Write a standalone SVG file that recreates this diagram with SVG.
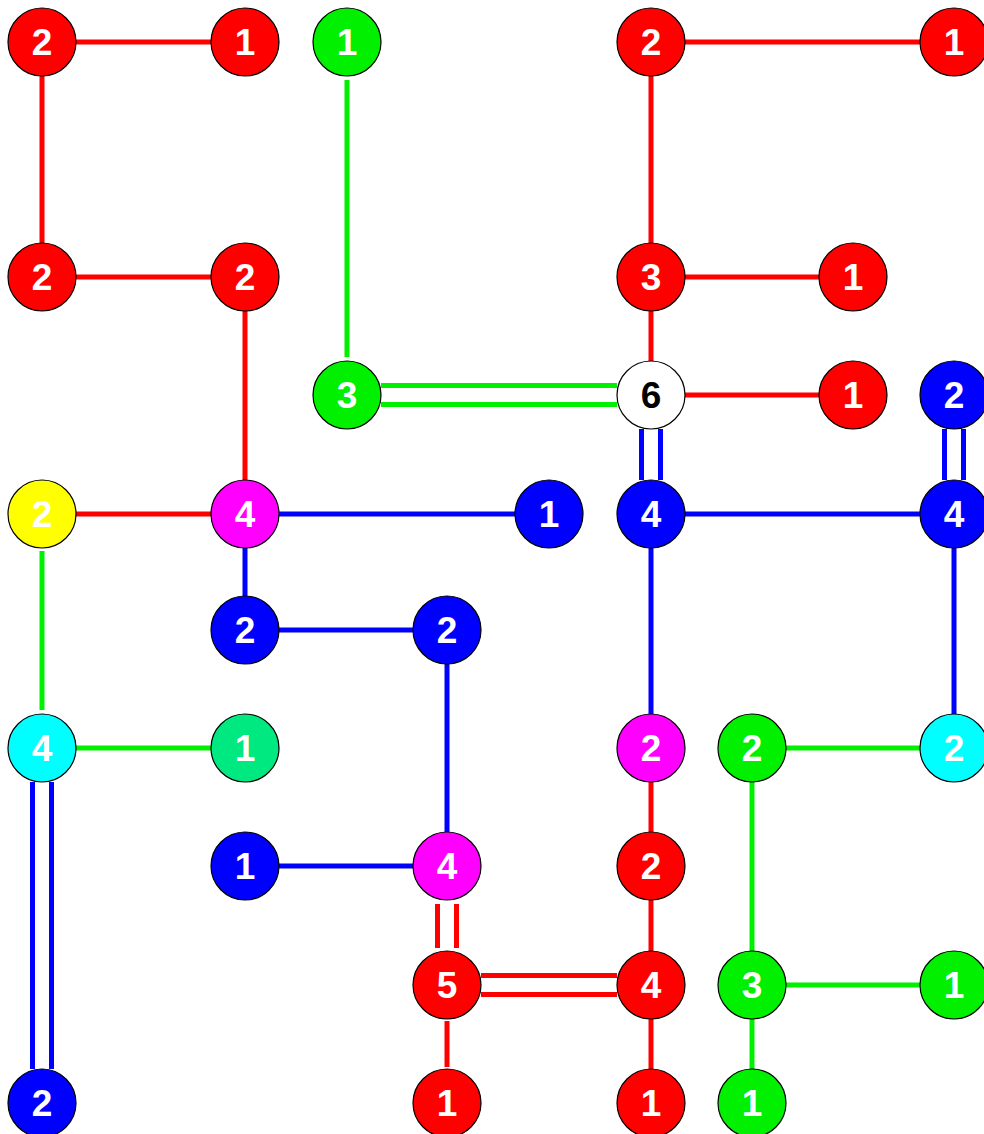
<svg xmlns="http://www.w3.org/2000/svg" width="984" height="1134" viewBox="0 0 984 1134">
<style>
.n circle{stroke:#000;stroke-width:1.2}
.n text{font-family:"Liberation Sans",Arial,sans-serif;font-weight:bold;font-size:37px;fill:#fff;text-anchor:middle}
.e line{stroke-width:5;stroke-linecap:butt}
.r{stroke:#ff0000}.g{stroke:#00f000}.b{stroke:#0000ff}
</style>
<rect width="984" height="1134" fill="#fff"/>
<g id="connectors" class="e">
<line class="r" x1="76" y1="42" x2="211" y2="42"/>
<line class="r" x1="42" y1="76" x2="42" y2="243"/>
<line class="r" x1="76" y1="277" x2="211" y2="277"/>
<line class="r" x1="245" y1="311" x2="245" y2="480"/>
<line class="g" x1="347" y1="80" x2="347" y2="357"/>
<line class="g" x1="381" y1="385.5" x2="617" y2="385.5"/>
<line class="g" x1="381" y1="404.5" x2="617" y2="404.5"/>
<line class="r" x1="685" y1="42" x2="920" y2="42"/>
<line class="r" x1="651" y1="76" x2="651" y2="243"/>
<line class="r" x1="685" y1="277" x2="819" y2="277"/>
<line class="r" x1="651" y1="311" x2="651" y2="361"/>
<line class="r" x1="685" y1="395" x2="819" y2="395"/>
<line class="b" x1="641.5" y1="429" x2="641.5" y2="480"/>
<line class="b" x1="660.5" y1="429" x2="660.5" y2="480"/>
<line class="b" x1="944.5" y1="429" x2="944.5" y2="480"/>
<line class="b" x1="963.5" y1="429" x2="963.5" y2="480"/>
<line class="r" x1="72" y1="514" x2="215" y2="514"/>
<line class="b" x1="275" y1="514" x2="515" y2="514"/>
<line class="b" x1="245" y1="548" x2="245" y2="596"/>
<line class="b" x1="685" y1="514" x2="920" y2="514"/>
<line class="b" x1="651" y1="548" x2="651" y2="714"/>
<line class="b" x1="954" y1="548" x2="954" y2="714"/>
<line class="g" x1="42" y1="551" x2="42" y2="710"/>
<line class="b" x1="279" y1="630" x2="413" y2="630"/>
<line class="b" x1="447" y1="664" x2="447" y2="832"/>
<line class="g" x1="76" y1="748" x2="211" y2="748"/>
<line class="b" x1="32.5" y1="782" x2="32.5" y2="1069"/>
<line class="b" x1="51.5" y1="782" x2="51.5" y2="1069"/>
<line class="r" x1="651" y1="782" x2="651" y2="832"/>
<line class="g" x1="786" y1="748" x2="920" y2="748"/>
<line class="g" x1="752" y1="782" x2="752" y2="951"/>
<line class="b" x1="279" y1="866" x2="413" y2="866"/>
<line class="r" x1="437.5" y1="904" x2="437.5" y2="948"/>
<line class="r" x1="456.5" y1="904" x2="456.5" y2="948"/>
<line class="r" x1="651" y1="900" x2="651" y2="951"/>
<line class="r" x1="481" y1="975.5" x2="617" y2="975.5"/>
<line class="r" x1="481" y1="994.5" x2="617" y2="994.5"/>
<line class="r" x1="447" y1="1021" x2="447" y2="1067"/>
<line class="r" x1="651" y1="1019" x2="651" y2="1069"/>
<line class="g" x1="786" y1="985" x2="920" y2="985"/>
<line class="g" x1="752" y1="1019" x2="752" y2="1069"/>
</g>
<g id="n1" class="n"><circle cx="42" cy="42" r="34" fill="#ff0000"/><text x="42" y="55">2</text></g>
<g id="n2" class="n"><circle cx="245" cy="42" r="34" fill="#ff0000"/><text x="245" y="55">1</text></g>
<g id="n3" class="n"><circle cx="347" cy="42" r="34" fill="#00f000"/><text x="347" y="55">1</text></g>
<g id="n4" class="n"><circle cx="651" cy="42" r="34" fill="#ff0000"/><text x="651" y="55">2</text></g>
<g id="n5" class="n"><circle cx="954" cy="42" r="34" fill="#ff0000"/><text x="954" y="55">1</text></g>
<g id="n6" class="n"><circle cx="42" cy="277" r="34" fill="#ff0000"/><text x="42" y="290">2</text></g>
<g id="n7" class="n"><circle cx="245" cy="277" r="34" fill="#ff0000"/><text x="245" y="290">2</text></g>
<g id="n8" class="n"><circle cx="651" cy="277" r="34" fill="#ff0000"/><text x="651" y="290">3</text></g>
<g id="n9" class="n"><circle cx="853" cy="277" r="34" fill="#ff0000"/><text x="853" y="290">1</text></g>
<g id="n10" class="n"><circle cx="347" cy="395" r="34" fill="#00f000"/><text x="347" y="408">3</text></g>
<g id="n11" class="n"><circle cx="651" cy="395" r="34" fill="#ffffff"/><text x="651" y="408" style="fill:#000">6</text></g>
<g id="n12" class="n"><circle cx="853" cy="395" r="34" fill="#ff0000"/><text x="853" y="408">1</text></g>
<g id="n13" class="n"><circle cx="954" cy="395" r="34" fill="#0000ff"/><text x="954" y="408">2</text></g>
<g id="n14" class="n"><circle cx="42" cy="514" r="34" fill="#ffff00"/><text x="42" y="527">2</text></g>
<g id="n15" class="n"><circle cx="245" cy="514" r="34" fill="#ff00ff"/><text x="245" y="527">4</text></g>
<g id="n16" class="n"><circle cx="549" cy="514" r="34" fill="#0000ff"/><text x="549" y="527">1</text></g>
<g id="n17" class="n"><circle cx="651" cy="514" r="34" fill="#0000ff"/><text x="651" y="527">4</text></g>
<g id="n18" class="n"><circle cx="954" cy="514" r="34" fill="#0000ff"/><text x="954" y="527">4</text></g>
<g id="n19" class="n"><circle cx="245" cy="630" r="34" fill="#0000ff"/><text x="245" y="643">2</text></g>
<g id="n20" class="n"><circle cx="447" cy="630" r="34" fill="#0000ff"/><text x="447" y="643">2</text></g>
<g id="n21" class="n"><circle cx="42" cy="748" r="34" fill="#00ffff"/><text x="42" y="761">4</text></g>
<g id="n22" class="n"><circle cx="245" cy="748" r="34" fill="#00e880"/><text x="245" y="761">1</text></g>
<g id="n23" class="n"><circle cx="651" cy="748" r="34" fill="#ff00ff"/><text x="651" y="761">2</text></g>
<g id="n24" class="n"><circle cx="752" cy="748" r="34" fill="#00f000"/><text x="752" y="761">2</text></g>
<g id="n25" class="n"><circle cx="954" cy="748" r="34" fill="#00ffff"/><text x="954" y="761">2</text></g>
<g id="n26" class="n"><circle cx="245" cy="866" r="34" fill="#0000ff"/><text x="245" y="879">1</text></g>
<g id="n27" class="n"><circle cx="447" cy="866" r="34" fill="#ff00ff"/><text x="447" y="879">4</text></g>
<g id="n28" class="n"><circle cx="651" cy="866" r="34" fill="#ff0000"/><text x="651" y="879">2</text></g>
<g id="n29" class="n"><circle cx="447" cy="985" r="34" fill="#ff0000"/><text x="447" y="998">5</text></g>
<g id="n30" class="n"><circle cx="651" cy="985" r="34" fill="#ff0000"/><text x="651" y="998">4</text></g>
<g id="n31" class="n"><circle cx="752" cy="985" r="34" fill="#00f000"/><text x="752" y="998">3</text></g>
<g id="n32" class="n"><circle cx="954" cy="985" r="34" fill="#00f000"/><text x="954" y="998">1</text></g>
<g id="n33" class="n"><circle cx="42" cy="1103" r="34" fill="#0000ff"/><text x="42" y="1116">2</text></g>
<g id="n34" class="n"><circle cx="447" cy="1103" r="34" fill="#ff0000"/><text x="447" y="1116">1</text></g>
<g id="n35" class="n"><circle cx="651" cy="1103" r="34" fill="#ff0000"/><text x="651" y="1116">1</text></g>
<g id="n36" class="n"><circle cx="752" cy="1103" r="34" fill="#00f000"/><text x="752" y="1116">1</text></g>
</svg>
